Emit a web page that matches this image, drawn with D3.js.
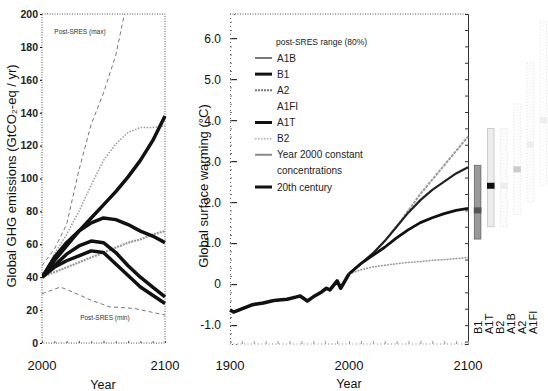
<!DOCTYPE html>
<html>
<head>
<meta charset="utf-8">
<script src="https://cdn.jsdelivr.net/npm/d3@7"></script>
<style>
  body { margin: 0; background: #fff; }
  svg { font-family: "Liberation Sans", Arial, sans-serif; }
</style>
</head>
<body>
<div id="chart"></div>
<script>
// ---- left panel: emissions (GtCO2-eq / yr)
const emisYears = [2000, 2010, 2020, 2030, 2040, 2050, 2060, 2070, 2080, 2090, 2100];
const emisA2   = [40, 50, 59, 68, 76, 84, 92, 101, 111, 123, 138];
const emisA1B  = [40, 52, 61, 68, 73, 76, 75, 72, 68, 65, 61];
const emisA1T  = [40, 47, 54, 59, 62, 61, 55, 47, 40, 34, 28];
const emisB1   = [40, 46, 50, 53, 56, 55, 48, 41, 34, 29, 24];
const emisB2   = [40, 43, 46, 49, 52, 55, 58, 61, 63, 66, 68];
const emisA1FI = [40, 54, 66, 80, 96, 111, 121, 128, 131, 131, 132];
const postMaxYears = [2000, 2010, 2020, 2030, 2040, 2050, 2060, 2067];
const postMax = [47, 57, 72, 105, 133, 152, 175, 200];
const postMinYears = [2000, 2015, 2025, 2040, 2055, 2075, 2100];
const postMin = [30, 34, 31, 26, 22, 21, 17];
const emisTicks = [0, 20, 40, 60, 80, 100, 120, 140, 160, 180, 200];

// ---- right panel: surface warming (°C)
const histYears = [1900, 1903, 1911, 1918, 1921, 1928, 1935, 1939, 1948, 1956, 1959, 1965, 1970, 1977, 1981, 1984, 1990, 1993, 1997, 2000];
const histTemp  = [-0.63, -0.68, -0.59, -0.51, -0.49, -0.46, -0.41, -0.39, -0.37, -0.31, -0.29, -0.41, -0.31, -0.19, -0.1, -0.14, 0.08, -0.1, 0.1, 0.25];
const projYears = [2000, 2010, 2020, 2030, 2040, 2050, 2060, 2070, 2080, 2090, 2100];
const projA2    = [0.25, 0.5, 0.75, 1.05, 1.4, 1.8, 2.2, 2.55, 2.9, 3.25, 3.6];
const projA1B   = [0.25, 0.5, 0.75, 1.05, 1.4, 1.75, 2.05, 2.3, 2.5, 2.7, 2.85];
const projB1    = [0.25, 0.5, 0.7, 0.9, 1.13, 1.33, 1.5, 1.62, 1.72, 1.8, 1.85];
const projConst = [0.25, 0.35, 0.42, 0.46, 0.5, 0.53, 0.55, 0.58, 0.6, 0.62, 0.65];
const tempTicks = [-1, 0, 1, 2, 3, 4, 5, 6];
const tempTickLabels = ["-1.0", "0", "1.0", "2.0", "3.0", "4.0", "5.0", "6.0"];
const yearTicks = [1900, 2000, 2100];

// likely ranges at 2100
const rangeNames = ["B1", "A1T", "B2", "A1B", "A2", "A1FI"];
const rangeLow   = [1.1, 1.4, 1.4, 1.7, 2.0, 2.4];
const rangeHigh  = [2.9, 3.8, 3.8, 4.4, 5.4, 6.4];
const rangeBest  = [1.8, 2.4, 2.4, 2.8, 3.4, 4.0];

const legendLabels = ["A1B", "B1", "A2", "A1FI", "A1T", "B2", "Year 2000 constant", "concentrations", "20th century"];

// styles
const thick = { stroke: "#111", width: 3.5, dash: null };
const barStyle = {
  B1:   { fill: "#9a9a9a", stroke: "#666", best: "#555" },
  A1T:  { fill: "#ececec", stroke: "#c4c4c4", best: "#111" },
  B2:   { fill: "#fbfbfb", stroke: "#d4d4d4", best: "#eee" },
  A1B:  { fill: "#fcfcfc", stroke: "#d8d8d8", best: "#ccc" },
  A2:   { fill: "#fcfcfc", stroke: "#dcdcdc", best: "#eee" },
  A1FI: { fill: "#fdfdfd", stroke: "#dedede", best: "#eee" }
};
const legendStyle = {
  "A1B": { stroke: "#777", width: 2, dash: null },
  "B1": { stroke: "#111", width: 3, dash: null },
  "A2": { stroke: "#777", width: 2, dash: "2,1" },
  "A1FI": null,
  "A1T": { stroke: "#111", width: 3, dash: null },
  "B2": { stroke: "#aaa", width: 1.5, dash: "1.5,1.5" },
  "Year 2000 constant": { stroke: "#888", width: 2, dash: null },
  "concentrations": null,
  "20th century": { stroke: "#111", width: 3, dash: null }
};

const svg = d3.select("#chart").append("svg")
  .attr("width", 548).attr("height", 391);

function drawLine(g, xs, ys, x, y, st) {
  const pts = xs.map((d, i) => [d, ys[i]]);
  const line = d3.line().x(d => x(d[0])).y(d => y(d[1]));
  g.append("path")
    .datum(pts)
    .attr("d", line)
    .attr("fill", "none")
    .attr("stroke", st.stroke)
    .attr("stroke-width", st.width)
    .attr("stroke-linejoin", "round")
    .attr("stroke-dasharray", st.dash);
}

// ================= left panel
const xE = d3.scaleLinear().domain([2000, 2100]).range([42, 165]);
const yE = d3.scaleLinear().domain([0, 200]).range([343, 14]);
const gL = svg.append("g");

// frame (dotted)
gL.append("rect")
  .attr("x", xE(2000)).attr("y", yE(200))
  .attr("width", xE(2100) - xE(2000)).attr("height", yE(0) - yE(200))
  .attr("fill", "none").attr("stroke", "#555").attr("stroke-dasharray", "1,1.5");

const axL = gL.append("g")
  .attr("transform", `translate(${xE(2000)},0)`)
  .call(d3.axisLeft(yE).tickValues(emisTicks).tickSize(2).tickFormat(d3.format("d")));
axL.select(".domain").remove();
axL.selectAll("text").attr("font-size", 10.5).attr("font-weight", "bold").attr("fill", "#222").attr("dx", 1);

const axLB = gL.append("g")
  .attr("transform", `translate(0,${yE(0)})`)
  .call(d3.axisBottom(xE).tickValues(d3.range(2000, 2101, 10)).tickSize(-2).tickFormat(""));
axLB.select(".domain").remove();
axLB.selectAll("line").attr("stroke", "#555");

gL.selectAll(".yl").data([2000, 2100]).enter().append("text")
  .attr("x", d => xE(d)).attr("y", 370)
  .attr("text-anchor", "middle").attr("font-size", 13).attr("fill", "#111")
  .text(d => d);
gL.append("text").attr("x", 103).attr("y", 389).attr("text-anchor", "middle")
  .attr("font-size", 12.5).attr("fill", "#111").text("Year");

gL.append("text")
  .attr("transform", "translate(16,176) rotate(-90)")
  .attr("text-anchor", "middle").attr("font-size", 13).attr("fill", "#111")
  .text("Global GHG emissions (GtCO₂-eq / yr)");

svg.append("clipPath").attr("id", "clipL").append("rect")
  .attr("x", xE(2000)).attr("y", yE(200)).attr("width", xE(2100) - xE(2000) + 3).attr("height", yE(0) - yE(200));
const gLp = gL.append("g").attr("clip-path", "url(#clipL)");

drawLine(gLp, postMaxYears, postMax, xE, yE, { stroke: "#777", width: 1, dash: "4,3" });
drawLine(gLp, postMinYears, postMin, xE, yE, { stroke: "#777", width: 1, dash: "4,3" });
drawLine(gLp, emisYears, emisA1FI, xE, yE, { stroke: "#999", width: 1.5, dash: "1.5,1.5" });
drawLine(gLp, emisYears, emisB2, xE, yE, { stroke: "#999", width: 2.2, dash: "2,1" });
drawLine(gLp, emisYears, emisB1, xE, yE, thick);
drawLine(gLp, emisYears, emisA1T, xE, yE, thick);
drawLine(gLp, emisYears, emisA1B, xE, yE, thick);
drawLine(gLp, emisYears, emisA2, xE, yE, thick);

gL.append("text").attr("x", xE(10 + 2000)).attr("y", yE(188)).attr("font-size", 6.5).attr("fill", "#333")
  .text("Post-SRES (max)");
gL.append("text").attr("x", xE(2031)).attr("y", yE(14)).attr("font-size", 6.5).attr("fill", "#333")
  .text("Post-SRES (min)");

// ================= right panel
const xT = d3.scaleLinear().domain([1900, 2100]).range([230, 468]);
const yT = d3.scaleLinear().domain([-1.46, 6.59]).range([344, 14]);
const gR = svg.append("g");

gR.append("line").attr("x1", xT(1900)).attr("x2", xT(2100)).attr("y1", yT(6.59)).attr("y2", yT(6.59))
  .attr("stroke", "#555").attr("stroke-dasharray", "1,1.5");
gR.append("line").attr("x1", xT(1900)).attr("x2", xT(2100)).attr("y1", yT(-1.46)).attr("y2", yT(-1.46))
  .attr("stroke", "#888").attr("stroke-dasharray", "1,2.5");

const axR = gR.append("g")
  .attr("transform", `translate(${xT(1900)},0)`)
  .call(d3.axisLeft(yT).tickValues(tempTicks).tickSize(-7).tickPadding(9)
    .tickFormat((d, i) => tempTickLabels[i]));
axR.select(".domain").attr("stroke", "#666").attr("stroke-dasharray", "1,3");
axR.selectAll("text").attr("font-size", 12).attr("fill", "#111");

const axRm = gR.append("g")
  .attr("transform", `translate(${xT(1900)},0)`)
  .call(d3.axisLeft(yT).tickValues(d3.range(-1.4, 6.6, 0.2)).tickSize(-2).tickFormat(""));
axRm.select(".domain").remove();
axRm.selectAll("line").attr("stroke", "#777");

const axRr = gR.append("g")
  .attr("transform", `translate(${xT(2100)},0)`)
  .call(d3.axisRight(yT).tickValues(d3.range(-1.4, 6.6, 0.4)).tickSize(-3).tickFormat(""));
axRr.select(".domain").attr("stroke", "#333");
axRr.selectAll("line").attr("stroke", "#333");

const axRb = gR.append("g")
  .attr("transform", `translate(0,${yT(-1.46)})`)
  .call(d3.axisBottom(xT).tickValues(d3.range(1900, 2101, 10)).tickSize(-3).tickFormat(""));
axRb.select(".domain").remove();
axRb.selectAll("line").attr("stroke", "#999");

gR.selectAll(".yr").data(yearTicks).enter().append("text")
  .attr("x", d => xT(d)).attr("y", 370)
  .attr("text-anchor", "middle").attr("font-size", 13).attr("fill", "#111")
  .text(d => d);
gR.append("text").attr("x", xT(2000)).attr("y", 388).attr("text-anchor", "middle")
  .attr("font-size", 12.5).attr("fill", "#111").text("Year");

gR.append("text")
  .attr("transform", "translate(208,186) rotate(-90)")
  .attr("text-anchor", "middle").attr("font-size", 13).attr("fill", "#111")
  .text("Global surface warming (°C)");

drawLine(gR, projYears, projConst, xT, yT, { stroke: "#999", width: 1.5, dash: "2,1" });
drawLine(gR, projYears, projA2, xT, yT, { stroke: "#999", width: 2, dash: "3,1" });
drawLine(gR, projYears, projA1B, xT, yT, { stroke: "#222", width: 2.2, dash: null });
drawLine(gR, projYears, projB1, xT, yT, { stroke: "#111", width: 2.8, dash: null });
drawLine(gR, histYears, histTemp, xT, yT, { stroke: "#111", width: 3.5, dash: null });

// likely range bars
const xBar = d3.scaleBand().domain(rangeNames).range([473, 548]).paddingInner(0.5).paddingOuter(0.1);
const xLab = d3.scalePoint().domain(rangeNames).range([478, 533]);
const gB = svg.append("g");
gB.selectAll(".bar").data(rangeNames).enter().append("rect")
  .attr("x", d => xBar(d))
  .attr("width", xBar.bandwidth())
  .attr("y", (d, i) => yT(rangeHigh[i]))
  .attr("height", (d, i) => yT(rangeLow[i]) - yT(rangeHigh[i]))
  .attr("fill", d => barStyle[d].fill)
  .attr("stroke", d => barStyle[d].stroke)
  .attr("stroke-width", 0.8)
  .attr("stroke-dasharray", (d, i) => i > 1 ? "1,2" : null);
gB.selectAll(".best").data(rangeNames).enter().append("rect")
  .attr("x", d => xBar(d) - 0.5)
  .attr("width", xBar.bandwidth() + 1)
  .attr("y", (d, i) => yT(rangeBest[i]) - 3)
  .attr("height", 6)
  .attr("fill", d => barStyle[d].best);
gB.selectAll(".lab").data(rangeNames).enter().append("text")
  .attr("transform", d => `translate(${xLab(d) + 4},334) rotate(-90)`)
  .attr("font-size", 11).attr("fill", "#111")
  .text(d => d);

// legend
const gLeg = svg.append("g");
gLeg.append("text").attr("x", 276).attr("y", 45).attr("font-size", 8.5).attr("fill", "#222")
  .text("post-SRES range (80%)");
const legY = d3.scalePoint().domain(legendLabels).range([58, 187]);
legendLabels.forEach(name => {
  const st = legendStyle[name];
  if (st) {
    gLeg.append("line")
      .attr("x1", 255).attr("x2", 272)
      .attr("y1", legY(name)).attr("y2", legY(name))
      .attr("stroke", st.stroke).attr("stroke-width", st.width)
      .attr("stroke-dasharray", st.dash);
  }
  gLeg.append("text")
    .attr("x", 277).attr("y", legY(name) + 3.5)
    .attr("font-size", 10).attr("fill", "#222")
    .text(name);
});
</script>
</body>
</html>
